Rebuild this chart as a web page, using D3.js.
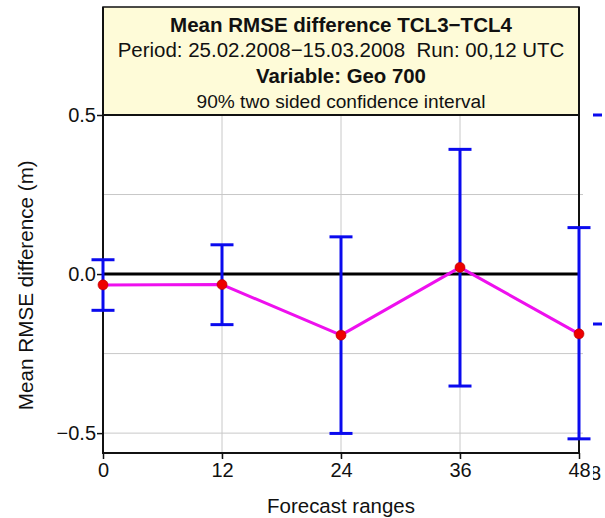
<!DOCTYPE html>
<html>
<head>
<meta charset="utf-8">
<script src="https://cdn.jsdelivr.net/npm/d3@7"></script>
<style>
    body { margin: 0; background: #fff; }
    svg { display: block; font-family: "Liberation Sans", Arial, sans-serif; }
    .tick-label { font-size: 20px; fill: #111; }
    .annotation { font-size: 19px; fill: #111; }
</style>
</head>
<body>
<svg class="chart" width="605" height="518"></svg>
<script>
// forecast ranges (hours) and the mean RMSE difference with its 90% interval
var forecastRanges = [0, 12, 24, 36, 48];
var meanDiff = [-0.034, -0.033, -0.192, 0.021, -0.188];
var ciUpper = [0.045, 0.092, 0.117, 0.392, 0.146];
var ciLower = [-0.114, -0.159, -0.501, -0.352, -0.518];

var xTicks = [0, 12, 24, 36, 48];
var yTicks = [-0.5, 0, 0.5];
var yGrid = [-0.5, -0.25, 0.25];

var titleLines = [
    "Mean RMSE difference TCL3\u2212TCL4",
    "Period: 25.02.2008\u221215.03.2008  Run: 00,12 UTC",
    "Variable: Geo 700",
    "90% two sided confidence interval"
];

// bits of the neighbouring panel that poke in at the right edge
var neighbourCaps = [0.5, -0.157];

(function () {
    var svg = d3.select(".chart"),
        margin = {
            top: 7,
            right: 26,
            bottom: 65,
            left: 103
        },
        width = +svg.attr("width") - margin.left - margin.right,
        height = +svg.attr("height") - margin.top - margin.bottom,
        boxHeight = 108;

    var x = d3.scaleLinear()
        .range([margin.left, margin.left + width])
        .domain([0, 48]);

    var y = d3.scaleLinear()
        .range([margin.top + height, margin.top + boxHeight])
        .domain([-0.5625, 0.5]);

    var plotTop = y(0.5),
        plotBottom = y(-0.5625);

    // shrink or grow a text so it spans the width seen in the picture
    function fitWidth(sel, target) {
        sel.each(function () {
            var base = parseFloat(window.getComputedStyle(this).fontSize),
                w = this.getComputedTextLength();
            if (w > 0) d3.select(this).style("font-size", (base * target / w).toFixed(2) + "px");
        });
    }

    // grid
    svg.append("g")
        .selectAll("line")
        .data(yGrid)
        .enter()
        .append("line")
        .attr("x1", x(0))
        .attr("x2", x(48) + 4)
        .attr("y1", function (d) { return y(d); })
        .attr("y2", function (d) { return y(d); })
        .attr("stroke", "#c8c8c8")
        .attr("stroke-width", 1);

    svg.append("g")
        .selectAll("line")
        .data(xTicks.slice(1, -1))
        .enter()
        .append("line")
        .attr("x1", function (d) { return x(d); })
        .attr("x2", function (d) { return x(d); })
        .attr("y1", plotTop)
        .attr("y2", plotBottom + 5)
        .attr("stroke", "#c8c8c8")
        .attr("stroke-width", 1);

    // title box
    svg.append("rect")
        .attr("x", x(0))
        .attr("y", margin.top)
        .attr("width", width)
        .attr("height", boxHeight)
        .attr("fill", "#fefbd8")
        .attr("stroke", "#111")
        .attr("stroke-width", 1.5);

    var titleY = [31.5, 57, 83, 108],
        titleW = [342, 447, 170, 289];
    svg.selectAll(".title-line")
        .data(titleLines)
        .enter()
        .append("text")
        .attr("class", "title-line")
        .attr("x", x(24))
        .attr("y", function (d, i) { return titleY[i]; })
        .attr("text-anchor", "middle")
        .attr("fill", "#111")
        .style("white-space", "pre")
        .style("font-weight", function (d, i) { return (i === 0 || i === 2) ? "bold" : "normal"; })
        .style("font-size", "20px")
        .text(function (d) { return d; })
        .each(function (d, i) { fitWidth(d3.select(this), titleW[i]); });

    // frame
    svg.append("line")
        .attr("x1", x(0)).attr("x2", x(48))
        .attr("y1", plotTop).attr("y2", plotTop)
        .attr("stroke", "#111").attr("stroke-width", 2);
    svg.append("path")
        .attr("d", "M" + x(0) + "," + margin.top + "V" + plotBottom + "H" + x(48) + "V" + margin.top)
        .attr("fill", "none")
        .attr("stroke", "#111")
        .attr("stroke-width", 2);

    // zero line
    svg.append("line")
        .attr("x1", x(0)).attr("x2", x(48))
        .attr("y1", y(0)).attr("y2", y(0))
        .attr("stroke", "#000").attr("stroke-width", 3);

    // axes
    svg.append("g")
        .attr("transform", "translate(0," + plotBottom + ")")
        .call(d3.axisBottom(x).tickValues(xTicks).tickSize(6).tickPadding(4).tickFormat(d3.format("d")))
        .call(function (g) {
            g.select(".domain").remove();
            g.selectAll("line").attr("stroke", "#111").attr("stroke-width", 1.5);
            g.selectAll("text").attr("class", "tick-label").attr("font-family", null).attr("font-size", null);
        });

    svg.append("g")
        .attr("transform", "translate(" + x(0) + ",0)")
        .call(d3.axisLeft(y).tickValues(yTicks).tickSize(6).tickPadding(1).tickFormat(d3.format(".1f")))
        .call(function (g) {
            g.select(".domain").remove();
            g.selectAll("line").attr("stroke", "#111").attr("stroke-width", 1.5);
            g.selectAll("text").attr("class", "tick-label").attr("font-family", null).attr("font-size", null);
        });

    svg.append("text")
        .attr("class", "annotation")
        .attr("x", x(24))
        .attr("y", 513)
        .attr("text-anchor", "middle")
        .text("Forecast ranges")
        .call(fitWidth, 148);

    svg.append("text")
        .attr("class", "annotation")
        .attr("transform", "translate(33," + y(-0.035) + ") rotate(-90)")
        .attr("text-anchor", "middle")
        .text("Mean RMSE difference (m)")
        .call(fitWidth, 250);

    // mean line
    var line = d3.line()
        .x(function (d, i) { return x(forecastRanges[i]); })
        .y(function (d) { return y(d); });

    svg.append("path")
        .datum(meanDiff)
        .attr("fill", "none")
        .attr("stroke", "#ee10ee")
        .attr("stroke-width", 3)
        .attr("stroke-linejoin", "round")
        .attr("d", line);

    // error bars
    var bars = svg.append("g")
        .selectAll("g")
        .data(forecastRanges)
        .enter()
        .append("g")
        .attr("stroke", "#0a0aee")
        .attr("stroke-width", 3);

    bars.append("line")
        .attr("x1", function (d) { return x(d); })
        .attr("x2", function (d) { return x(d); })
        .attr("y1", function (d, i) { return y(ciUpper[i]); })
        .attr("y2", function (d, i) { return y(ciLower[i]); });

    bars.append("line")
        .attr("x1", function (d) { return x(d) - 11.5; })
        .attr("x2", function (d) { return x(d) + 11.5; })
        .attr("y1", function (d, i) { return y(ciUpper[i]); })
        .attr("y2", function (d, i) { return y(ciUpper[i]); });

    bars.append("line")
        .attr("x1", function (d) { return x(d) - 11.5; })
        .attr("x2", function (d) { return x(d) + 11.5; })
        .attr("y1", function (d, i) { return y(ciLower[i]); })
        .attr("y2", function (d, i) { return y(ciLower[i]); });

    svg.append("g")
        .selectAll("circle")
        .data(meanDiff)
        .enter()
        .append("circle")
        .attr("cx", function (d, i) { return x(forecastRanges[i]); })
        .attr("cy", function (d) { return y(d); })
        .attr("r", 5)
        .attr("fill", "#ee0000")
        .attr("stroke", "#b00000")
        .attr("stroke-width", 0.6);

    // right edge: pieces of the next panel
    svg.append("clipPath")
        .attr("id", "edge")
        .append("rect")
        .attr("x", 593).attr("y", 0).attr("width", 20).attr("height", 518);

    var edge = svg.append("g").attr("clip-path", "url(#edge)");

    edge.selectAll("line")
        .data(neighbourCaps)
        .enter()
        .append("line")
        .attr("x1", 593).attr("x2", 602)
        .attr("y1", function (d) { return y(d); })
        .attr("y2", function (d) { return y(d); })
        .attr("stroke", "#0a0aee")
        .attr("stroke-width", 3);

    edge.append("text")
        .attr("class", "tick-label")
        .attr("x", 590)
        .attr("y", plotBottom + 27)
        .attr("text-anchor", "middle")
        .text("48");
})();
</script>
</body>
</html>
